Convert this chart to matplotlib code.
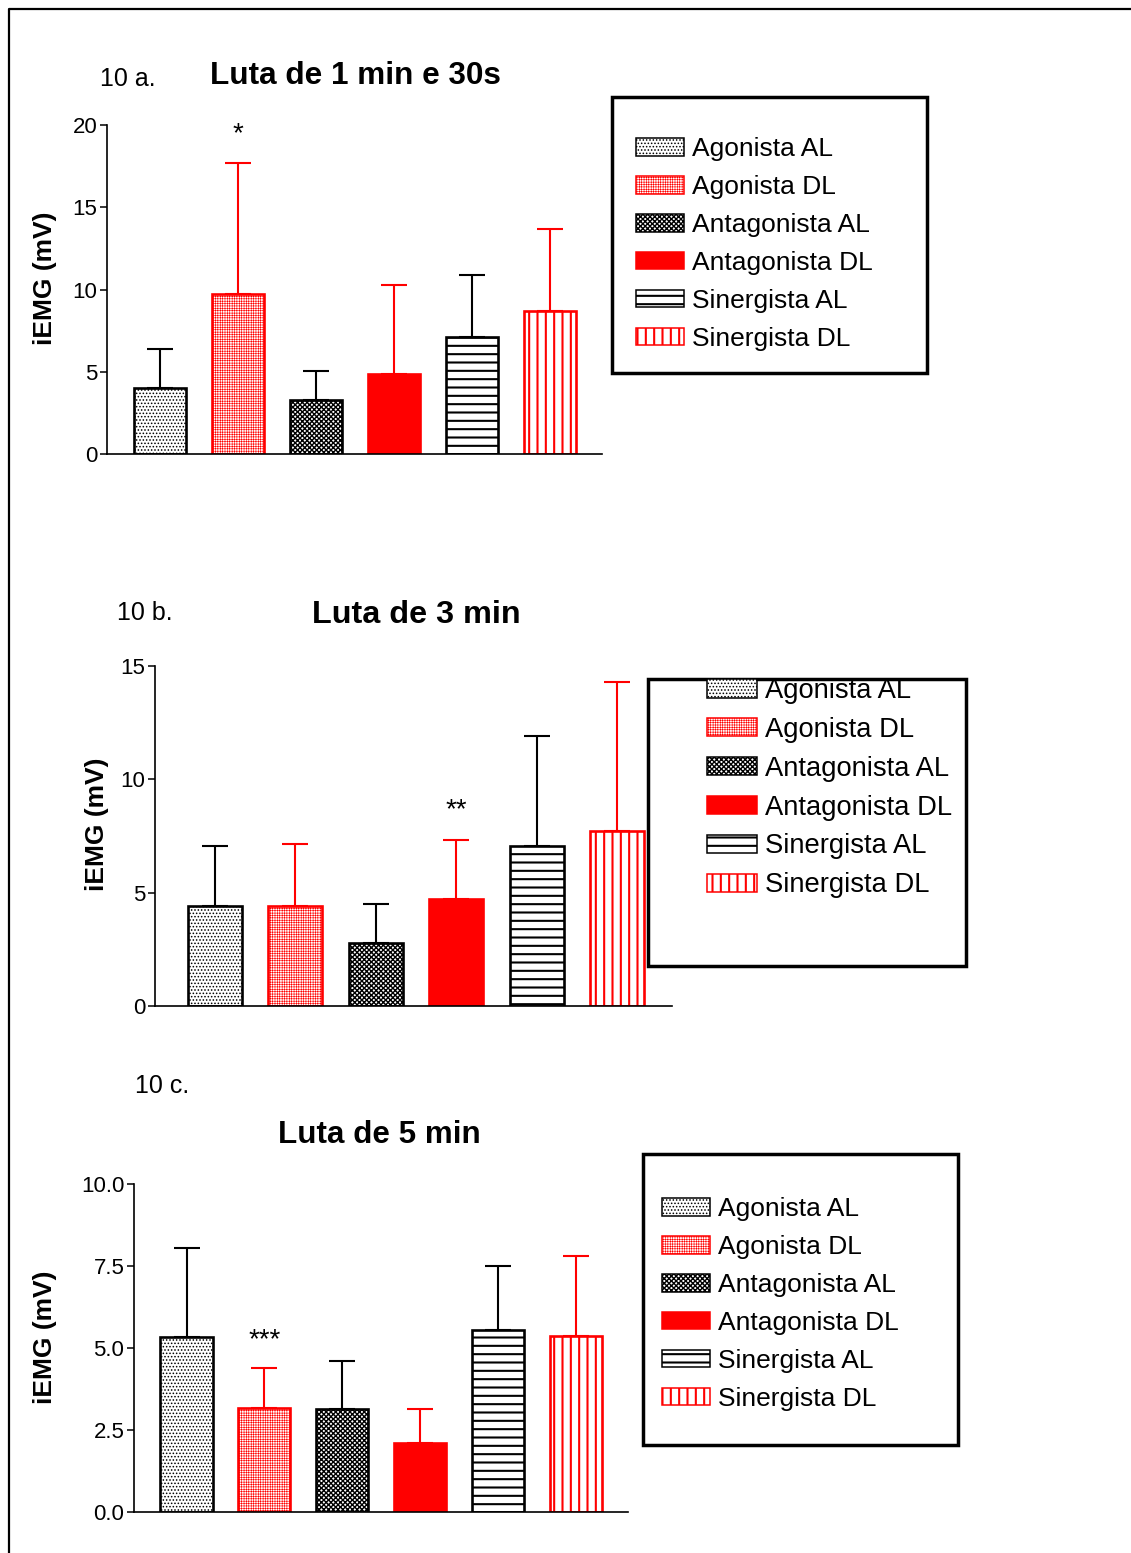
import numpy as np
import matplotlib
matplotlib.use('Agg')
import matplotlib.pyplot as plt
from matplotlib.patches import Rectangle

plt.rcParams['font.family'] = ['Liberation Sans', 'DejaVu Sans']
plt.rcParams['hatch.linewidth'] = 0.8

#figure size in pixels
W, H = 1131, 1553

groups = ['Agonista AL', 'Agonista DL', 'Antagonista AL', 'Antagonista DL', 'Sinergista AL', 'Sinergista DL']

#10 a. luta de 1 min e 30s (mean and sd, mV)
mean_a = [4.0, 9.7, 3.3, 4.85, 7.1, 8.7]
sd_a = [2.4, 8.0, 1.75, 5.45, 3.8, 5.0]

#10 b. luta de 3 min
mean_b = [4.43, 4.42, 2.77, 4.72, 7.08, 7.72]
sd_b = [2.61, 2.71, 1.75, 2.61, 4.85, 6.59]

#10 c. luta de 5 min
mean_c = [5.33, 3.17, 3.15, 2.1, 5.55, 5.38]
sd_c = [2.73, 1.22, 1.44, 1.04, 1.96, 2.43]

#significance marks: (bar index, height, text)
star_a = (1, 19.45, '*')
star_b = (3, 8.65, '**')
star_c = (1, 5.25, '***')

#bar styles: face, edge, hatch, hatch line width
face = ['white', 'white', 'white', 'red', 'white', 'white']
edge = ['black', 'red', 'black', 'red', 'black', 'red']
hatch = ['.....', '+++++++', 'xxxxxxx', '', '--', '||']
hatch_lw = [0.7, 0.4, 1.0, 0.8, 1.5, 1.5]

fig = plt.figure(figsize=(W / 100, H / 100), dpi=100)


def px_axes(l, r, t, b):
    return fig.add_axes([l / W, 1 - b / H, (r - l) / W, (b - t) / H])


def fig_text(x, y, s, **kw):
    fig.text(x / W, 1 - y / H, s, **kw)


def draw_panel(ax, means, sds, ylim, yticks, fmt, xlim, star):
    x = np.arange(len(means))
    for i in range(len(means)):
        ax.errorbar(x[i], means[i], yerr=[[0], [sds[i]]], fmt='none',
                    ecolor=edge[i], elinewidth=1.5, capsize=9.4, capthick=1.5, zorder=1)
    bars = []
    for i in range(len(means)):
        with plt.rc_context({'hatch.linewidth': hatch_lw[i]}):
            b = ax.bar(x[i], means[i], width=0.67, color=face[i], edgecolor=edge[i],
                       linewidth=1.9, hatch=hatch[i] or None, zorder=2)
        p = b.patches[0]
        if hasattr(p, 'set_hatch_linewidth'):
            p.set_hatch_linewidth(hatch_lw[i])
        bars.append(p)
    ax.set_xlim(xlim)
    ax.set_ylim(ylim)
    ax.set_yticks(yticks)
    ax.set_yticklabels([fmt % v for v in yticks], fontsize=16)
    ax.set_xticks([])
    ax.spines['top'].set_visible(False)
    ax.spines['right'].set_visible(False)
    ax.spines['left'].set_linewidth(1.2)
    ax.spines['bottom'].set_linewidth(1.2)
    ax.tick_params(axis='y', direction='out', length=5, width=1.1, pad=2)
    ax.patch.set_alpha(0)
    ax.text(star[0], star[1], star[2], ha='center', va='center', fontsize=20)
    return bars


def legend_box(bars, hx, hy, box, fs=19, spacing=0.53):
    fig.add_artist(Rectangle((box[0] / W, 1 - box[3] / H), (box[1] - box[0]) / W,
                             (box[3] - box[2]) / H, transform=fig.transFigure,
                             facecolor='white', edgecolor='black', lw=2.5, zorder=5))
    leg = fig.legend(bars, groups, loc='upper left',
                     bbox_to_anchor=(hx / W, 1 - hy / H), frameon=False,
                     fontsize=fs, handlelength=1.82, handleheight=0.65,
                     handletextpad=0.3, labelspacing=spacing, borderpad=0,
                     borderaxespad=0)
    for h, lw in zip(leg.legend_handles, hatch_lw):
        h.set_linewidth(1.1)
        if hasattr(h, 'set_hatch_linewidth'):
            h.set_hatch_linewidth(lw)
    leg.set_zorder(6)


#panel a
ax1 = px_axes(107, 602, 125, 454)
b1 = draw_panel(ax1, mean_a, sd_a, (0, 20), [0, 5, 10, 15, 20], '%d', (-0.68, 5.67), star_a)
fig_text(100, 79, '10 a.', fontsize=18, va='center')
fig_text(210, 76, 'Luta de 1 min e 30s', fontsize=22.7, fontweight='bold', va='center')
fig_text(45, 278, 'iEMG (mV)', fontsize=19, fontweight='bold', rotation=90, ha='center', va='center')
legend_box(b1, 636, 137, (612, 927, 97, 373))

#panel b
ax2 = px_axes(155, 672, 666, 1006)
b2 = draw_panel(ax2, mean_b, sd_b, (0, 15), [0, 5, 10, 15], '%d', (-0.74, 5.68), star_b)
fig_text(117, 613, '10 b.', fontsize=18, va='center')
fig_text(312, 615, 'Luta de 3 min', fontsize=23.3, fontweight='bold', va='center')
fig_text(97, 824, 'iEMG (mV)', fontsize=19, fontweight='bold', rotation=90, ha='center', va='center')
legend_box(b2, 707, 678, (648, 966, 679, 966), fs=19.7, spacing=0.47)

#panel c
ax3 = px_axes(134, 628, 1184, 1512)
b3 = draw_panel(ax3, mean_c, sd_c, (0, 10), [0, 2.5, 5, 7.5, 10], '%.1f', (-0.675, 5.67), star_c)
fig_text(135, 1086, '10 c.', fontsize=18, va='center')
fig_text(278, 1135, 'Luta de 5 min', fontsize=22.6, fontweight='bold', va='center')
fig_text(45, 1337, 'iEMG (mV)', fontsize=19, fontweight='bold', rotation=90, ha='center', va='center')
legend_box(b3, 662, 1197, (643, 958, 1154, 1445))

#page border (top and left)
fig.add_artist(plt.Line2D([9 / W, 9 / W, 1], [0, 1 - 9 / H, 1 - 9 / H],
                          transform=fig.transFigure, color='black', lw=1.6))

plt.savefig('out.png', dpi=100)
